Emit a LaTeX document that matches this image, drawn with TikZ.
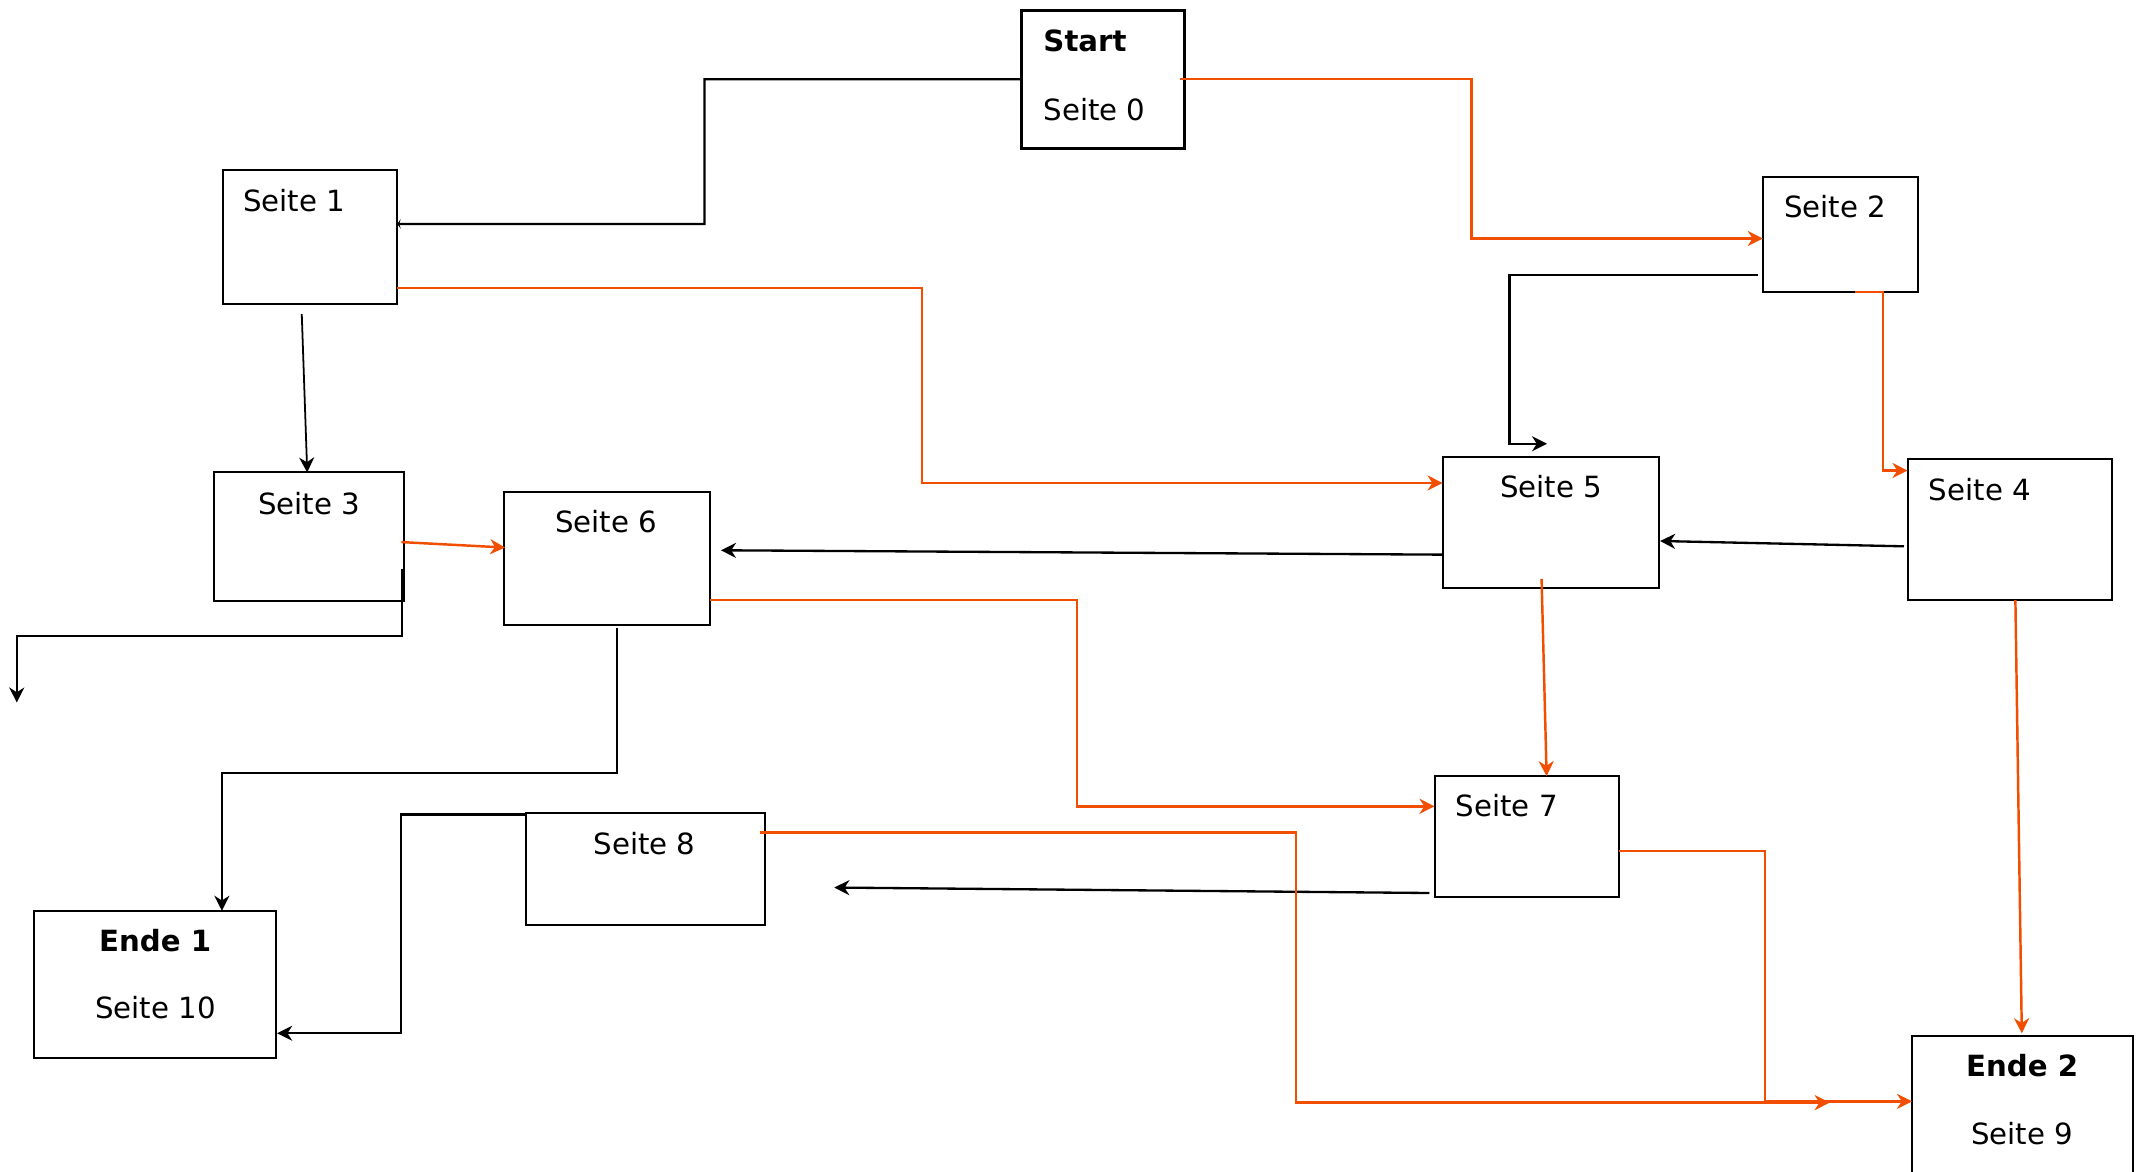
\documentclass[tikz,border=0pt]{standalone}
\usepackage{fontspec}
\setmainfont{DejaVu Sans}
\usetikzlibrary{arrows.meta}
\definecolor{orng}{RGB}{242,78,0}
\begin{document}
\begin{tikzpicture}[x=1pt,y=-1pt,
  pagebox/.style={draw=black,line width=1.5pt,fill=none,inner sep=0pt,outer sep=0pt},
  startbox/.style={pagebox,line width=2.4pt},
  lbl/.style={inner sep=0pt,font=\fontsize{21.4}{25}\selectfont},
  blbl/.style={lbl,font=\fontsize{21.4}{25}\selectfont\bfseries},
  blk/.style={draw=black,line width=1.7pt,-{Stealth[length=11pt,width=11pt,inset=3.5pt]}},
  org/.style={draw=orng,line width=1.8pt,-{Stealth[length=11pt,width=11pt,inset=3.5pt]}}]
\clip (0,0) rectangle (1568,857.6);
\fill[white] (0,0) rectangle (1568,857.6);
% boxes
\node[startbox,minimum width=119.5pt,minimum height=100.9pt] (start) at (807.75,58.05) {};
\node[pagebox,minimum width=128pt,minimum height=98pt] (s1) at (227,173.5) {};
\node[pagebox,minimum width=114pt,minimum height=84.1pt] (s2) at (1348,171.65) {};
\node[pagebox,minimum width=139pt,minimum height=94pt] (s3) at (226.5,393) {};
\node[pagebox,minimum width=151pt,minimum height=97.6pt] (s6) at (444.5,408.8) {};
\node[pagebox,minimum width=158.5pt,minimum height=95.7pt] (s5) at (1135.75,382.45) {};
\node[pagebox,minimum width=150pt,minimum height=103.5pt] (s4) at (1472,387.75) {};
\node[pagebox,minimum width=134.9pt,minimum height=88.8pt] (s7) at (1118.05,612.8) {};
\node[pagebox,minimum width=175pt,minimum height=81.5pt] (s8) at (472.5,636.45) {};
\node[pagebox,minimum width=177pt,minimum height=107.7pt] (e1) at (113.5,720.85) {};
\node[pagebox,minimum width=161.7pt,minimum height=120pt] (e2) at (1481.15,819) {};
% texts
\node[blbl,anchor=base west] (t0a) at (764,38) {Start};
\node[lbl,anchor=base west] (t0b) at (764,88) {Seite 0};
\node[lbl,anchor=base west] (t1) at (178,155) {Seite 1};
\node[lbl,anchor=base west] (t2) at (1306.5,159) {Seite 2};
\node[lbl,anchor=base] (t3) at (226.4,376.5) {Seite 3};
\node[lbl,anchor=base] (t6) at (444,390) {Seite 6};
\node[lbl,anchor=base] (t5) at (1136,364.5) {Seite 5};
\node[lbl,anchor=base west] (t4) at (1412.5,366.5) {Seite 4};
\node[lbl,anchor=base west] (t7) at (1066,598) {Seite 7};
\node[lbl,anchor=base] (t8) at (472,625.6) {Seite 8};
\node[blbl,anchor=base] (te1) at (113.6,696.7) {Ende 1};
\node[lbl,anchor=base] (t10) at (113.8,746) {Seite 10};
\node[blbl,anchor=base] (te2) at (1481,788.6) {Ende 2};
\node[lbl,anchor=base] (t9) at (1481,838) {Seite 9};
% free ends
\coordinate (b3end) at (1133,325);
\coordinate (b6end) at (12.3,514.5);
\coordinate (b9end) at (611,650);
\coordinate (o8end) at (1340,807.5);
% black connectors
\draw[draw=black,line width=1.7pt,-{Stealth[length=2.5pt,width=7pt,inset=1.2pt]}] (start.west) -- (516,58) |- ([yshift=9.5pt]s1.east);
\draw[blk,line width=1.3pt] ([xshift=-6pt,yshift=-7.5pt]s1.south) -- ([xshift=-1.5pt]s3.north);
\draw[blk] ([xshift=-3.7pt,yshift=-29.65pt]s2.west) -| (1105.5,325) -- (b3end);
\draw[blk] ([yshift=-23.75pt]s5.west) -- ([xshift=8pt,yshift=5.8pt]s6.east);
\draw[blk] ([xshift=-2.6pt,yshift=-12.35pt]s4.west) -- ([xshift=0.8pt,yshift=-13.75pt]s5.east);
\draw[blk] ([xshift=-1.5pt,yshift=-23.5pt]s3.east) -- ++(0,49.5) -| (b6end);
\draw[blk] ([xshift=7.5pt,yshift=-2.4pt]s6.south) -- ++(0,106) -| ([xshift=49pt]e1.north);
\draw[blk] ([yshift=-0.9pt]s8.north west) -- ++(-91.3,0) |- ([xshift=1pt,yshift=-35.85pt]e1.east);
\draw[blk] ([xshift=-3.7pt,yshift=-41.2pt]s7.west) -- (b9end);
% orange connectors
\draw[org] ([xshift=-3.5pt,yshift=0.35pt]start.east) -- ++(213.8,0) |- ([yshift=-3pt]s2.west);
\draw[org] ([yshift=-37.5pt]s1.east) -- ++(384.4,0) |- ([yshift=28.75pt]s5.west);
\draw[org] ([xshift=10.7pt]s2.south) -- ++(20.3,0) |- ([yshift=43.15pt]s4.west);
\draw[org] ([xshift=-2pt,yshift=-4pt]s3.east) -- ([xshift=1pt,yshift=7.8pt]s6.west);
\draw[org] ([yshift=-30.5pt]s6.east) -- ++(268.7,0) |- ([yshift=22.3pt]s7.west);
\draw[org] ([xshift=-6.75pt,yshift=6.3pt]s5.south) -- ([xshift=14.65pt]s7.north);
\draw[org] ([xshift=4pt]s4.south) -- ([xshift=-0.45pt,yshift=2.3pt]e2.north);
\draw[org] ([xshift=-3.4pt,yshift=26.85pt]s8.east) -- ++(392.7,0) |- (o8end);
\draw[org] ([yshift=-10.5pt]s7.east) -- ++(107.1,0) |- ([yshift=12.4pt]e2.west);
\end{tikzpicture}
\end{document}
